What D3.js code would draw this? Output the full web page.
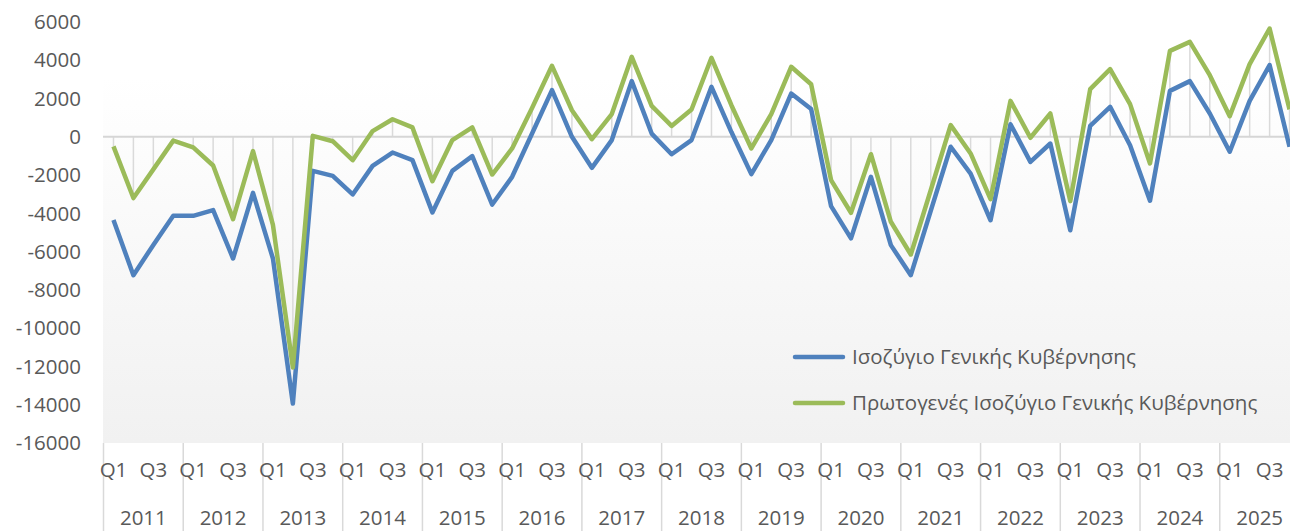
<!DOCTYPE html>
<html lang="el">
<head>
    <meta charset="UTF-8">
    <title>Ισοζύγιο Γενικής Κυβέρνησης</title>
    <script src="https://d3js.org/d3.v7.min.js"></script>
    <style>
        * { margin: 0; padding: 0; box-sizing: border-box; }
        body { background: #ffffff; overflow: hidden; font-family: "Open Sans", sans-serif; }
        .tick-label { fill: #595959; font-size: 20.5px; }
        .legend text { fill: #595959; font-size: 20.5px; }
    </style>
</head>
<body>
    <svg></svg>

    <script>
        // Έτη και τρίμηνα
        const years = d3.range(2011, 2026).map(String);
        const quarters = ["Q1", "Q2", "Q3", "Q4"];

        // Ισοζύγιο Γενικής Κυβέρνησης (εκατ. €), 2011Q1 - 2025Q4
        const balance = [
            -4350, -7230, -5650, -4130,
            -4130, -3830, -6360, -2930,
            -6360, -13940, -1780, -2040,
            -3010, -1520, -820, -1220,
            -3950, -1780, -1010, -3540,
            -2090, 170, 2440, 0,
            -1620, -170, 2910, 170,
            -910, -170, 2610, 250,
            -1950, -170, 2260, 1450,
            -3620, -5310, -2090, -5660,
            -7230, -3870, -520, -1920,
            -4360, 660, -1310, -350,
            -4880, 570, 1570, -440,
            -3340, 2400, 2910, 1220,
            -780, 1880, 3750, -520
        ];

        // Πρωτογενές Ισοζύγιο Γενικής Κυβέρνησης
        const primary = [
            -500, -3200, -1700, -200,
            -550, -1500, -4300, -750,
            -4600, -12050, 50, -230,
            -1220, 300, 920, 490,
            -2320, -170, 490, -1970,
            -610, 1500, 3710, 1390,
            -120, 1190, 4180, 1620,
            570, 1430, 4130, 1650,
            -610, 1190, 3660, 2750,
            -2260, -3970, -910, -4440,
            -6150, -2790, 610, -870,
            -3260, 1880, -50, 1220,
            -3360, 2490, 3540, 1710,
            -1390, 4490, 4960, 3220,
            1080, 3800, 5660, 1430
        ];

        const yTicks = [6000, 4000, 2000, 0, -2000, -4000, -6000, -8000, -10000, -12000, -14000, -16000];
        const seriesNames = ["Ισοζύγιο Γενικής Κυβέρνησης", "Πρωτογενές Ισοζύγιο Γενικής Κυβέρνησης"];
        const seriesColors = ["#4f81bd", "#9bbb59"];

        const width = 1290, height = 531;
        const svg = d3.select("svg").attr("width", width).attr("height", height);

        // κατηγορίες: κάθε τρίμηνο κάθε έτους
        const cats = years.flatMap(y => quarters.map(q => y + "-" + q));

        const x = d3.scaleBand().domain(cats).range([103.5, 1299.5]);
        const y = d3.scaleLinear().domain([-16000, 6000]).range([443, 22]);
        const cx = i => x(cats[i]) + x.bandwidth() / 2;

        // φόντο περιοχής γραφήματος με διαβάθμιση
        const grad = svg.append("defs").append("linearGradient")
            .attr("id", "bg").attr("x1", 0).attr("y1", 0).attr("x2", 0).attr("y2", 1);
        grad.append("stop").attr("offset", "0%").attr("stop-color", "#ffffff");
        grad.append("stop").attr("offset", "100%").attr("stop-color", "#f1f1f1");

        svg.append("rect")
            .attr("x", 103).attr("y", 77)
            .attr("width", width - 103).attr("height", 443 - 77)
            .attr("fill", "url(#bg)");

        // γραμμές πτώσης από το μηδέν
        svg.append("g").selectAll("line")
            .data(primary)
            .enter().append("line")
            .attr("x1", (d, i) => cx(i)).attr("x2", (d, i) => cx(i))
            .attr("y1", y(0)).attr("y2", d => y(d))
            .attr("stroke", "#dadada").attr("stroke-width", 1.5);

        // γραμμή μηδέν
        svg.append("line")
            .attr("x1", 103).attr("x2", width)
            .attr("y1", y(0)).attr("y2", y(0))
            .attr("stroke", "#d6d6d6").attr("stroke-width", 2);

        // άξονας y
        svg.append("g").selectAll("text")
            .data(yTicks)
            .enter().append("text")
            .attr("class", "tick-label")
            .attr("x", 81).attr("y", d => y(d))
            .attr("dy", "0.35em")
            .attr("text-anchor", "end")
            .text(d => d);

        // άξονας x: τρίμηνα και έτη
        const yearWidth = x.bandwidth() * 4;
        svg.append("g").selectAll("line")
            .data(d3.range(years.length + 1))
            .enter().append("line")
            .attr("x1", i => 103.5 + i * yearWidth).attr("x2", i => 103.5 + i * yearWidth)
            .attr("y1", 443).attr("y2", height)
            .attr("stroke", "#d9d9d9").attr("stroke-width", 1.5);

        svg.append("g").selectAll("text")
            .data(cats.filter(c => c.endsWith("Q1") || c.endsWith("Q3")))
            .enter().append("text")
            .attr("class", "tick-label")
            .attr("x", c => x(c) + x.bandwidth() / 2)
            .attr("y", 477)
            .attr("text-anchor", "middle")
            .text(c => c.split("-")[1]);

        svg.append("g").selectAll("text")
            .data(years)
            .enter().append("text")
            .attr("class", "tick-label")
            .attr("x", (d, i) => 103.5 + (i + 0.5) * yearWidth)
            .attr("y", 525)
            .attr("text-anchor", "middle")
            .text(d => d);

        // γραμμές σειρών
        const line = d3.line().x((d, i) => cx(i)).y(d => y(d));
        [balance, primary].forEach((s, k) => {
            svg.append("path")
                .datum(s)
                .attr("d", line)
                .attr("fill", "none")
                .attr("stroke", seriesColors[k])
                .attr("stroke-width", 4.5)
                .attr("stroke-linejoin", "round");
        });

        // υπόμνημα
        const legend = svg.append("g").attr("class", "legend");
        seriesNames.forEach((name, k) => {
            const ly = 357 + k * 46;
            legend.append("line")
                .attr("x1", 795).attr("x2", 843)
                .attr("y1", ly).attr("y2", ly)
                .attr("stroke", seriesColors[k]).attr("stroke-width", 4.5)
                .attr("stroke-linecap", "round");
            legend.append("text")
                .attr("x", 852).attr("y", ly)
                .attr("dy", "0.35em")
                .text(name);
        });
    </script>
</body>
</html>
